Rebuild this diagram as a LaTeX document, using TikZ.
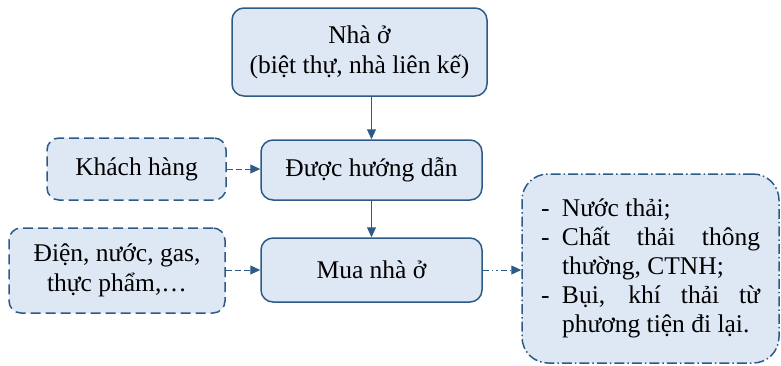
\documentclass[tikz,border=0pt]{standalone}
\usepackage{fontspec}
\setmainfont{Liberation Serif}
\usetikzlibrary{arrows.meta}
\definecolor{bd}{HTML}{2E5A87}
\definecolor{bf}{HTML}{DEE8F4}
\tikzset{
  box/.style={draw=bd, fill=bf, line width=1.5pt, rounded corners=12pt, inner sep=0pt, align=center,
    font=\rmfamily\fontsize{25.5}{30}\selectfont},
  dbox/.style={box, dash pattern=on 10pt off 5pt},
  ddbox/.style={box, rounded corners=26pt, dash pattern=on 10pt off 3pt on 1.5pt off 3pt,
    font=\rmfamily\fontsize{25.5}{29}\selectfont},
  conn/.style={draw=bd, line width=1pt, -{Triangle[length=10pt,width=9pt]}},
  dconn/.style={conn, dash pattern=on 6pt off 3pt},
  ddconn/.style={conn, dash pattern=on 6pt off 3pt on 1.5pt off 3pt on 1.5pt off 3pt},
}
\begin{document}
\begin{tikzpicture}[x=1pt,y=1pt]
\useasboundingbox (0,0) rectangle (781,-365);
\node[box, minimum width=255pt, minimum height=88pt] (nha) at (359.5,-52) {\raisebox{-3pt}{\begin{tabular}{@{}c@{}}Nhà ở\\(biệt thự, nhà liên kế)\end{tabular}}};
\node[box, minimum width=221pt, minimum height=60pt] (huong) at (371.5,-170) {Được hướng dẫn};
\node[box, minimum width=221pt, minimum height=64pt] (mua) at (371.5,-270) {Mua nhà ở};
\node[dbox, minimum width=179pt, minimum height=62pt] (khach) at (136.5,-169) {Khách hàng};
\node[dbox, minimum width=216pt, minimum height=85pt] (dien) at (117,-270.5) {Điện, nước, gas,\\thực phẩm,…};
\node[ddbox, minimum width=257pt, minimum height=189pt, align=left] (out) at (650.5,-268.5)
  {\raisebox{-4pt}{\begin{tabular}{@{}l@{}}\makebox[21pt][l]{-}Nước thải;\\
   \makebox[21pt][l]{-}\makebox[198pt][s]{Chất thải thông}\\
   \hspace*{21pt}thường, CTNH;\\
   \makebox[21pt][l]{-}\makebox[198pt][s]{Bụi, khí thải từ}\\
   \hspace*{21pt}phương tiện đi lại.\end{tabular}}};
\draw[conn] (huong.north |- nha.south) -- (huong.north);
\draw[conn] (huong) -- (mua);
\draw[dconn] (khach) -- (khach -| huong.west);
\draw[dconn] (dien.east |- mua) -- (mua.west);
\draw[ddconn] (mua.east) -- (mua -| out.west);
\end{tikzpicture}
\end{document}
